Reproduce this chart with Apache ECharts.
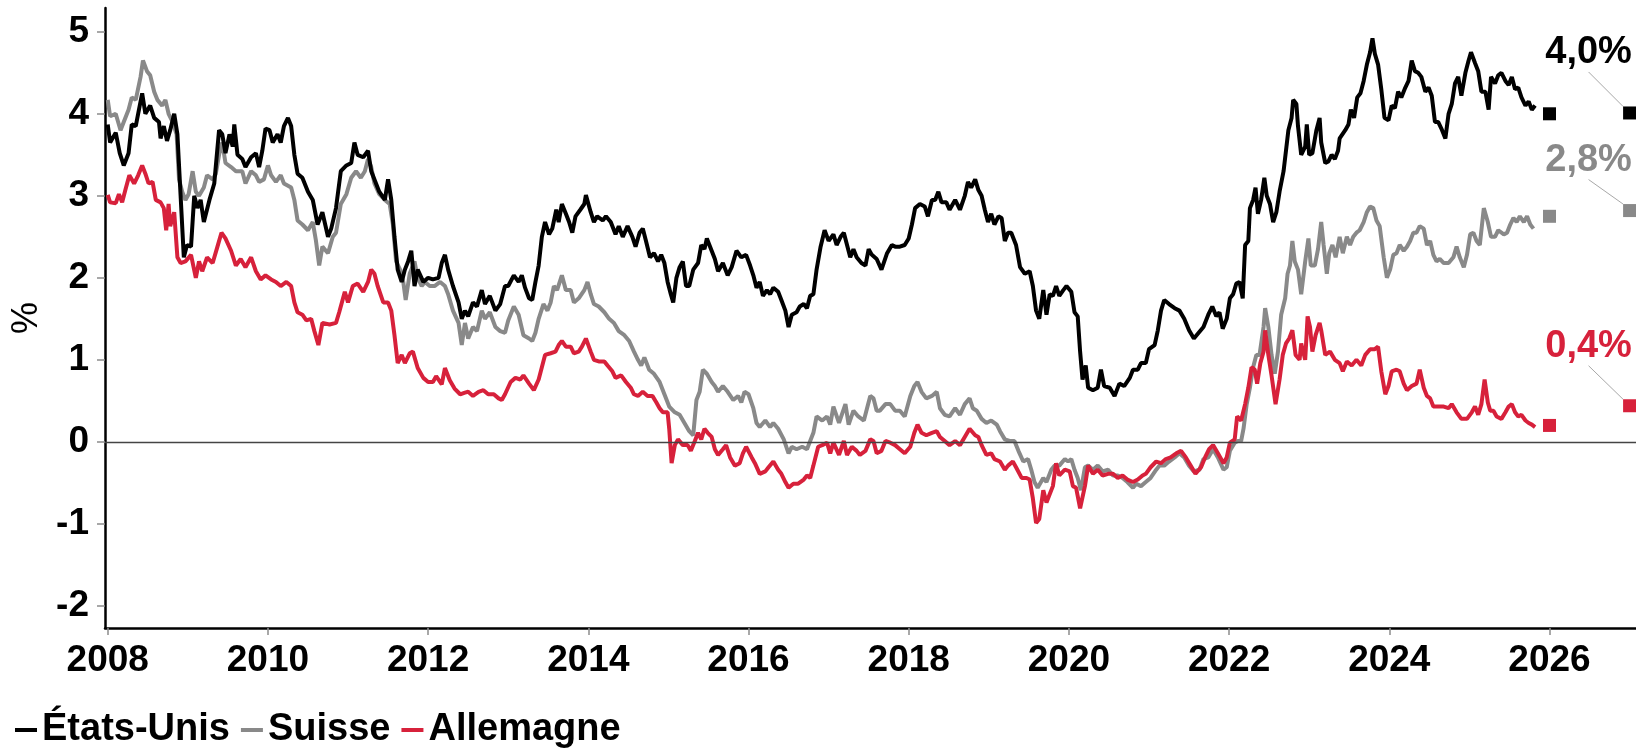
<!DOCTYPE html>
<html>
<head>
<meta charset="utf-8">
<script src="https://cdn.jsdelivr.net/npm/echarts@6/dist/echarts.min.js"></script>
<style>
  html, body { margin: 0; padding: 0; background: #fff; }
  #main { width: 1636px; height: 750px; }
</style>
</head>
<body>
<div id="main"></div>
<script type="text/javascript">
    // noms des séries et graduations
    var seriesNames = ['États-Unis', 'Suisse', 'Allemagne'];
    var xTicks = [2008, 2010, 2012, 2014, 2016, 2018, 2020, 2022, 2024, 2026];
    var yTicks = [-2, -1, 0, 1, 2, 3, 4, 5];

    // rendements : [année décimale, %]
    var usData = [
        [2008.00,3.87],[2008.03,3.65],[2008.10,3.77],[2008.15,3.52],[2008.20,3.37],[2008.26,3.52],[2008.30,3.87],[2008.35,3.85],
        [2008.39,4.05],[2008.43,4.25],[2008.47,4.00],[2008.53,4.10],[2008.58,3.95],[2008.64,3.90],[2008.66,3.70],[2008.70,3.85],
        [2008.74,3.67],[2008.78,3.80],[2008.83,4.00],[2008.87,3.75],[2008.91,3.00],[2008.95,2.25],[2008.99,2.40],[2009.04,2.38],
        [2009.08,3.00],[2009.12,2.85],[2009.16,2.95],[2009.20,2.68],[2009.27,2.95],[2009.33,3.15],[2009.39,3.80],[2009.43,3.75],
        [2009.47,3.52],[2009.52,3.75],[2009.56,3.60],[2009.58,3.87],[2009.62,3.50],[2009.68,3.45],[2009.72,3.35],[2009.79,3.47],
        [2009.85,3.52],[2009.89,3.35],[2009.93,3.55],[2009.97,3.82],[2010.02,3.80],[2010.06,3.65],[2010.12,3.75],[2010.16,3.65],
        [2010.20,3.85],[2010.25,3.95],[2010.29,3.85],[2010.33,3.50],[2010.37,3.27],[2010.43,3.22],[2010.50,3.05],[2010.56,2.95],
        [2010.62,2.65],[2010.68,2.80],[2010.75,2.50],[2010.79,2.60],[2010.85,2.85],[2010.91,3.30],[2010.98,3.37],[2011.04,3.40],
        [2011.08,3.65],[2011.12,3.50],[2011.19,3.47],[2011.25,3.55],[2011.29,3.30],[2011.33,3.20],[2011.39,3.05],[2011.46,2.95],
        [2011.50,3.20],[2011.54,2.95],[2011.58,2.50],[2011.62,2.10],[2011.67,1.95],[2011.71,2.10],[2011.75,2.20],[2011.79,2.33],
        [2011.83,1.90],[2011.87,2.10],[2011.94,1.95],[2012.00,2.00],[2012.06,1.98],[2012.13,2.00],[2012.17,2.18],[2012.21,2.28],
        [2012.25,2.10],[2012.31,1.90],[2012.38,1.70],[2012.42,1.50],[2012.46,1.60],[2012.50,1.53],[2012.56,1.70],[2012.61,1.65],
        [2012.67,1.85],[2012.71,1.68],[2012.77,1.78],[2012.84,1.60],[2012.90,1.68],[2012.96,1.90],[2013.00,1.90],[2013.07,2.03],
        [2013.13,1.95],[2013.17,2.03],[2013.21,1.88],[2013.26,1.75],[2013.30,1.73],[2013.34,1.95],[2013.38,2.15],[2013.42,2.50],
        [2013.46,2.68],[2013.51,2.53],[2013.55,2.60],[2013.60,2.83],[2013.63,2.68],[2013.67,2.90],[2013.72,2.78],[2013.76,2.68],
        [2013.80,2.55],[2013.84,2.75],[2013.90,2.83],[2013.95,2.90],[2013.97,3.01],[2014.03,2.80],[2014.07,2.68],[2014.11,2.75],
        [2014.18,2.70],[2014.22,2.75],[2014.28,2.68],[2014.34,2.53],[2014.38,2.63],[2014.43,2.50],[2014.49,2.63],[2014.55,2.50],
        [2014.59,2.38],[2014.64,2.55],[2014.68,2.60],[2014.72,2.45],[2014.77,2.25],[2014.82,2.30],[2014.87,2.20],[2014.91,2.28],
        [2014.95,2.18],[2014.99,1.95],[2015.03,1.80],[2015.06,1.70],[2015.10,2.00],[2015.14,2.13],[2015.18,2.20],[2015.22,1.90],
        [2015.26,1.90],[2015.31,2.10],[2015.37,2.18],[2015.41,2.40],[2015.45,2.35],[2015.48,2.48],[2015.54,2.33],[2015.58,2.23],
        [2015.62,2.08],[2015.68,2.18],[2015.74,2.03],[2015.79,2.13],[2015.85,2.33],[2015.91,2.25],[2015.97,2.28],[2016.02,2.15],
        [2016.06,2.03],[2016.10,1.88],[2016.14,1.95],[2016.18,1.78],[2016.23,1.85],[2016.27,1.80],[2016.31,1.88],[2016.37,1.83],
        [2016.41,1.73],[2016.46,1.60],[2016.50,1.40],[2016.54,1.55],[2016.60,1.58],[2016.64,1.65],[2016.69,1.68],[2016.73,1.63],
        [2016.77,1.78],[2016.81,1.80],[2016.85,2.10],[2016.90,2.38],[2016.95,2.58],[2017.00,2.45],[2017.06,2.53],[2017.10,2.40],
        [2017.15,2.50],[2017.19,2.55],[2017.23,2.40],[2017.27,2.25],[2017.31,2.35],[2017.35,2.25],[2017.41,2.18],[2017.46,2.15],
        [2017.50,2.35],[2017.54,2.28],[2017.60,2.23],[2017.66,2.10],[2017.73,2.30],[2017.79,2.40],[2017.83,2.38],[2017.89,2.38],
        [2017.95,2.40],[2018.00,2.48],[2018.04,2.65],[2018.08,2.85],[2018.14,2.90],[2018.20,2.87],[2018.24,2.75],[2018.29,2.95],
        [2018.33,2.95],[2018.37,3.05],[2018.41,2.92],[2018.47,2.92],[2018.51,2.83],[2018.58,2.95],[2018.64,2.83],[2018.70,3.00],
        [2018.74,3.17],[2018.78,3.10],[2018.83,3.20],[2018.87,3.07],[2018.91,3.00],[2018.95,2.83],[2018.99,2.68],[2019.03,2.78],
        [2019.07,2.65],[2019.12,2.75],[2019.16,2.73],[2019.20,2.45],[2019.24,2.55],[2019.28,2.55],[2019.34,2.40],[2019.39,2.13],
        [2019.45,2.05],[2019.51,2.08],[2019.55,1.90],[2019.59,1.60],[2019.63,1.50],[2019.68,1.85],[2019.72,1.55],[2019.76,1.80],
        [2019.80,1.78],[2019.84,1.90],[2019.88,1.78],[2019.93,1.85],[2019.97,1.90],[2020.03,1.83],[2020.07,1.58],[2020.11,1.53],
        [2020.14,1.10],[2020.17,0.76],[2020.21,0.93],[2020.24,0.66],[2020.30,0.63],[2020.36,0.66],[2020.40,0.88],[2020.44,0.68],
        [2020.51,0.66],[2020.57,0.56],[2020.63,0.71],[2020.69,0.68],[2020.76,0.78],[2020.80,0.88],[2020.86,0.88],[2020.90,0.96],
        [2020.96,0.96],[2021.00,1.13],[2021.07,1.18],[2021.11,1.36],[2021.15,1.60],[2021.19,1.73],[2021.25,1.68],[2021.32,1.63],
        [2021.38,1.60],[2021.44,1.50],[2021.50,1.36],[2021.56,1.26],[2021.62,1.33],[2021.68,1.40],[2021.74,1.55],[2021.79,1.65],
        [2021.84,1.53],[2021.88,1.58],[2021.92,1.38],[2021.97,1.50],[2022.01,1.75],[2022.05,1.80],[2022.09,1.93],[2022.13,1.95],
        [2022.17,1.75],[2022.20,2.40],[2022.24,2.45],[2022.26,2.85],[2022.30,2.95],[2022.33,3.10],[2022.36,2.78],[2022.40,2.95],
        [2022.44,3.22],[2022.47,3.00],[2022.51,2.90],[2022.55,2.68],[2022.59,2.80],[2022.63,3.05],[2022.68,3.30],[2022.71,3.55],
        [2022.74,3.80],[2022.78,3.95],[2022.80,4.17],[2022.84,4.12],[2022.86,3.85],[2022.90,3.50],[2022.95,3.60],[2022.97,3.87],
        [2023.00,3.50],[2023.04,3.52],[2023.09,3.80],[2023.13,3.95],[2023.15,3.65],[2023.20,3.40],[2023.24,3.42],[2023.28,3.50],
        [2023.32,3.45],[2023.36,3.55],[2023.38,3.70],[2023.45,3.80],[2023.49,3.87],[2023.52,4.05],[2023.56,3.95],[2023.60,4.20],
        [2023.64,4.25],[2023.68,4.40],[2023.72,4.60],[2023.76,4.75],[2023.79,4.92],[2023.82,4.73],[2023.86,4.60],[2023.90,4.30],
        [2023.94,3.95],[2023.99,3.92],[2024.03,4.10],[2024.07,4.07],[2024.11,4.27],[2024.15,4.20],[2024.20,4.32],[2024.24,4.40],
        [2024.28,4.65],[2024.32,4.52],[2024.36,4.50],[2024.40,4.45],[2024.45,4.27],[2024.49,4.32],[2024.53,4.22],[2024.57,3.90],
        [2024.61,3.90],[2024.65,3.82],[2024.70,3.70],[2024.74,4.00],[2024.78,4.12],[2024.82,4.37],[2024.86,4.45],[2024.90,4.22],
        [2024.95,4.50],[2024.99,4.65],[2025.02,4.75],[2025.07,4.62],[2025.11,4.52],[2025.15,4.27],[2025.20,4.27],[2025.24,4.05],
        [2025.27,4.45],[2025.32,4.37],[2025.36,4.47],[2025.40,4.50],[2025.45,4.40],[2025.49,4.35],[2025.53,4.45],[2025.57,4.30],
        [2025.61,4.32],[2025.65,4.20],[2025.70,4.10],[2025.74,4.15],[2025.78,4.05],[2025.82,4.10]
    ];

    var chData = [
        [2008.00,4.17],[2008.03,3.97],[2008.10,4.00],[2008.16,3.80],[2008.20,3.90],[2008.26,4.05],[2008.30,4.20],[2008.35,4.17],
        [2008.41,4.45],[2008.44,4.65],[2008.49,4.52],[2008.53,4.47],[2008.58,4.27],[2008.62,4.17],[2008.68,4.10],[2008.72,4.17],
        [2008.76,4.00],[2008.81,3.90],[2008.86,3.75],[2008.89,3.20],[2008.93,3.05],[2008.97,2.95],[2009.01,3.02],[2009.06,3.30],
        [2009.10,3.05],[2009.14,3.00],[2009.20,3.10],[2009.24,3.25],[2009.31,3.20],[2009.35,3.27],[2009.39,3.50],[2009.43,3.65],
        [2009.47,3.40],[2009.54,3.35],[2009.60,3.30],[2009.68,3.30],[2009.72,3.15],[2009.79,3.30],[2009.85,3.25],[2009.89,3.17],
        [2009.95,3.20],[2010.00,3.37],[2010.04,3.25],[2010.10,3.17],[2010.16,3.25],[2010.20,3.15],[2010.29,3.10],[2010.33,2.95],
        [2010.37,2.70],[2010.43,2.65],[2010.50,2.58],[2010.56,2.68],[2010.60,2.45],[2010.64,2.15],[2010.68,2.38],[2010.75,2.30],
        [2010.81,2.50],[2010.85,2.55],[2010.91,2.90],[2010.98,3.02],[2011.04,3.22],[2011.10,3.30],[2011.16,3.22],[2011.21,3.30],
        [2011.25,3.45],[2011.29,3.35],[2011.33,3.15],[2011.39,3.02],[2011.46,2.95],[2011.52,2.90],[2011.56,2.65],[2011.60,2.20],
        [2011.65,2.10],[2011.69,1.95],[2011.72,1.73],[2011.77,2.05],[2011.83,2.20],[2011.87,2.00],[2011.92,1.90],[2011.96,1.95],
        [2012.02,1.90],[2012.08,1.90],[2012.15,1.95],[2012.21,1.90],[2012.25,1.80],[2012.31,1.60],[2012.38,1.45],[2012.42,1.18],
        [2012.46,1.45],[2012.50,1.26],[2012.56,1.40],[2012.61,1.35],[2012.67,1.60],[2012.71,1.50],[2012.77,1.58],[2012.84,1.40],
        [2012.90,1.35],[2012.96,1.33],[2013.00,1.48],[2013.07,1.65],[2013.13,1.55],[2013.19,1.30],[2013.26,1.26],[2013.30,1.23],
        [2013.34,1.33],[2013.38,1.50],[2013.44,1.68],[2013.49,1.60],[2013.53,1.70],[2013.57,1.90],[2013.61,1.85],[2013.67,2.03],
        [2013.72,1.85],[2013.78,1.85],[2013.82,1.70],[2013.88,1.75],[2013.95,1.85],[2013.99,1.95],[2014.03,1.80],[2014.07,1.68],
        [2014.13,1.65],[2014.20,1.58],[2014.26,1.50],[2014.32,1.45],[2014.38,1.35],[2014.45,1.30],[2014.51,1.23],[2014.57,1.10],
        [2014.62,1.00],[2014.66,0.93],[2014.70,1.03],[2014.76,0.88],[2014.82,0.83],[2014.89,0.73],[2014.95,0.58],[2015.01,0.43],
        [2015.08,0.36],[2015.14,0.33],[2015.20,0.23],[2015.26,0.13],[2015.31,0.08],[2015.35,0.51],[2015.39,0.61],[2015.43,0.88],
        [2015.48,0.83],[2015.54,0.73],[2015.58,0.68],[2015.62,0.61],[2015.68,0.68],[2015.74,0.61],[2015.81,0.51],[2015.87,0.56],
        [2015.91,0.48],[2015.95,0.61],[2016.00,0.58],[2016.06,0.41],[2016.10,0.23],[2016.14,0.18],[2016.21,0.26],[2016.27,0.18],
        [2016.31,0.23],[2016.37,0.16],[2016.44,0.03],[2016.50,-0.14],[2016.54,-0.06],[2016.60,-0.09],[2016.67,-0.06],[2016.73,-0.09],
        [2016.77,0.01],[2016.81,0.11],[2016.85,0.31],[2016.92,0.26],[2016.98,0.31],[2017.02,0.21],[2017.06,0.43],[2017.13,0.23],
        [2017.21,0.46],[2017.25,0.21],[2017.31,0.38],[2017.37,0.31],[2017.44,0.26],[2017.48,0.41],[2017.52,0.56],[2017.56,0.53],
        [2017.60,0.38],[2017.64,0.38],[2017.71,0.46],[2017.77,0.46],[2017.83,0.38],[2017.89,0.38],[2017.95,0.31],[2018.02,0.56],
        [2018.07,0.68],[2018.11,0.73],[2018.16,0.61],[2018.22,0.53],[2018.29,0.56],[2018.35,0.61],[2018.39,0.41],[2018.45,0.33],
        [2018.51,0.31],[2018.58,0.41],[2018.64,0.33],[2018.70,0.46],[2018.76,0.53],[2018.80,0.41],[2018.85,0.38],[2018.91,0.28],
        [2018.97,0.23],[2019.03,0.26],[2019.10,0.21],[2019.14,0.13],[2019.20,0.03],[2019.26,0.01],[2019.32,0.01],[2019.37,-0.11],
        [2019.43,-0.24],[2019.49,-0.21],[2019.53,-0.34],[2019.57,-0.49],[2019.61,-0.56],[2019.68,-0.44],[2019.72,-0.49],[2019.78,-0.34],
        [2019.82,-0.29],[2019.88,-0.29],[2019.95,-0.21],[2019.99,-0.24],[2020.03,-0.21],[2020.07,-0.34],[2020.11,-0.44],[2020.15,-0.59],
        [2020.20,-0.31],[2020.24,-0.29],[2020.30,-0.34],[2020.36,-0.29],[2020.42,-0.36],[2020.49,-0.34],[2020.55,-0.41],[2020.61,-0.41],
        [2020.67,-0.44],[2020.73,-0.49],[2020.80,-0.56],[2020.84,-0.51],[2020.90,-0.54],[2020.96,-0.49],[2021.02,-0.44],[2021.09,-0.34],
        [2021.13,-0.29],[2021.19,-0.29],[2021.25,-0.24],[2021.32,-0.19],[2021.38,-0.14],[2021.44,-0.19],[2021.50,-0.29],[2021.56,-0.36],
        [2021.63,-0.34],[2021.68,-0.21],[2021.74,-0.19],[2021.80,-0.09],[2021.86,-0.19],[2021.93,-0.34],[2021.97,-0.31],[2022.01,-0.11],
        [2022.07,-0.01],[2022.11,0.01],[2022.15,0.01],[2022.18,0.16],[2022.22,0.46],[2022.26,0.66],[2022.30,0.91],[2022.34,1.06],
        [2022.38,1.06],[2022.43,1.40],[2022.45,1.63],[2022.49,1.40],[2022.53,1.06],[2022.57,0.83],[2022.61,1.10],[2022.65,1.55],
        [2022.70,1.75],[2022.73,2.05],[2022.76,2.15],[2022.79,2.45],[2022.82,2.20],[2022.86,2.10],[2022.90,1.80],[2022.95,2.20],
        [2022.99,2.48],[2023.02,2.15],[2023.07,2.15],[2023.11,2.35],[2023.15,2.68],[2023.18,2.40],[2023.22,2.05],[2023.25,2.30],
        [2023.29,2.40],[2023.33,2.25],[2023.38,2.50],[2023.42,2.30],[2023.47,2.50],[2023.51,2.40],[2023.55,2.50],[2023.59,2.55],
        [2023.63,2.58],[2023.68,2.68],[2023.72,2.80],[2023.76,2.87],[2023.80,2.85],[2023.84,2.70],[2023.88,2.63],[2023.93,2.25],
        [2023.97,2.00],[2024.01,2.10],[2024.05,2.28],[2024.09,2.30],[2024.13,2.40],[2024.18,2.33],[2024.22,2.38],[2024.26,2.45],
        [2024.30,2.55],[2024.34,2.55],[2024.38,2.63],[2024.43,2.60],[2024.47,2.40],[2024.51,2.45],[2024.55,2.28],[2024.59,2.20],
        [2024.63,2.23],[2024.68,2.18],[2024.74,2.18],[2024.80,2.25],[2024.84,2.38],[2024.88,2.25],[2024.93,2.13],[2024.97,2.28],
        [2025.01,2.53],[2025.05,2.55],[2025.09,2.45],[2025.13,2.40],[2025.18,2.85],[2025.23,2.68],[2025.27,2.50],[2025.32,2.50],
        [2025.36,2.58],[2025.43,2.53],[2025.47,2.55],[2025.51,2.65],[2025.55,2.73],[2025.59,2.68],[2025.63,2.75],[2025.68,2.68],
        [2025.72,2.75],[2025.76,2.65],[2025.80,2.60]
    ];

    var deData = [
        [2008.00,3.01],[2008.03,2.92],[2008.10,2.91],[2008.14,3.02],[2008.18,2.92],[2008.22,3.07],[2008.27,3.25],[2008.33,3.15],
        [2008.38,3.25],[2008.43,3.37],[2008.47,3.27],[2008.51,3.15],[2008.56,3.17],[2008.60,2.95],[2008.66,2.92],[2008.70,2.85],
        [2008.73,2.58],[2008.76,2.90],[2008.78,2.63],[2008.83,2.80],[2008.87,2.25],[2008.91,2.18],[2008.97,2.20],[2009.04,2.28],
        [2009.10,2.00],[2009.14,2.20],[2009.18,2.08],[2009.24,2.25],[2009.31,2.18],[2009.37,2.38],[2009.42,2.55],[2009.47,2.48],
        [2009.54,2.33],[2009.60,2.15],[2009.66,2.23],[2009.72,2.13],[2009.79,2.25],[2009.85,2.08],[2009.91,1.98],[2009.97,2.03],
        [2010.04,1.98],[2010.10,1.95],[2010.16,1.90],[2010.23,1.95],[2010.29,1.90],[2010.33,1.70],[2010.37,1.58],[2010.43,1.55],
        [2010.48,1.48],[2010.54,1.50],[2010.58,1.35],[2010.63,1.18],[2010.68,1.45],[2010.77,1.43],[2010.85,1.45],[2010.89,1.58],
        [2010.96,1.83],[2011.00,1.70],[2011.06,1.90],[2011.12,1.93],[2011.19,1.83],[2011.25,1.95],[2011.29,2.10],[2011.33,2.05],
        [2011.37,1.90],[2011.44,1.70],[2011.50,1.70],[2011.54,1.60],[2011.58,1.30],[2011.62,0.96],[2011.67,1.06],[2011.71,0.96],
        [2011.77,1.08],[2011.81,1.10],[2011.87,0.90],[2011.94,0.78],[2012.00,0.73],[2012.06,0.73],[2012.10,0.80],[2012.17,0.70],
        [2012.21,0.90],[2012.27,0.75],[2012.33,0.65],[2012.40,0.58],[2012.46,0.60],[2012.50,0.61],[2012.56,0.56],[2012.63,0.61],
        [2012.69,0.63],[2012.75,0.58],[2012.82,0.58],[2012.88,0.53],[2012.92,0.51],[2012.96,0.58],[2013.03,0.73],[2013.09,0.78],
        [2013.15,0.76],[2013.19,0.81],[2013.26,0.71],[2013.32,0.63],[2013.38,0.76],[2013.42,0.91],[2013.46,1.06],[2013.53,1.08],
        [2013.59,1.10],[2013.63,1.18],[2013.67,1.23],[2013.72,1.16],[2013.78,1.16],[2013.82,1.08],[2013.88,1.10],[2013.92,1.16],
        [2013.97,1.26],[2014.03,1.10],[2014.07,1.00],[2014.13,0.98],[2014.20,0.98],[2014.24,0.93],[2014.30,0.86],[2014.34,0.78],
        [2014.41,0.81],[2014.47,0.73],[2014.53,0.66],[2014.57,0.58],[2014.62,0.56],[2014.68,0.61],[2014.74,0.56],[2014.80,0.56],
        [2014.85,0.48],[2014.89,0.41],[2014.93,0.36],[2014.99,0.36],[2015.01,0.16],[2015.04,-0.26],[2015.08,-0.04],[2015.12,0.03],
        [2015.18,-0.04],[2015.24,-0.04],[2015.28,-0.11],[2015.33,0.01],[2015.37,0.11],[2015.41,0.03],[2015.45,0.16],[2015.49,0.11],
        [2015.54,0.06],[2015.58,-0.09],[2015.62,-0.16],[2015.68,-0.09],[2015.72,-0.04],[2015.77,-0.19],[2015.83,-0.29],[2015.89,-0.26],
        [2015.93,-0.14],[2015.97,-0.06],[2016.04,-0.19],[2016.08,-0.26],[2016.14,-0.39],[2016.21,-0.36],[2016.25,-0.31],[2016.31,-0.24],
        [2016.37,-0.34],[2016.41,-0.39],[2016.46,-0.49],[2016.50,-0.56],[2016.56,-0.51],[2016.62,-0.51],[2016.69,-0.46],[2016.73,-0.41],
        [2016.77,-0.44],[2016.81,-0.29],[2016.87,-0.06],[2016.92,-0.04],[2016.98,-0.01],[2017.02,-0.14],[2017.06,-0.01],[2017.13,-0.16],
        [2017.19,0.01],[2017.23,-0.16],[2017.29,-0.06],[2017.35,-0.11],[2017.39,-0.16],[2017.46,-0.11],[2017.52,0.03],[2017.56,0.01],
        [2017.60,-0.14],[2017.66,-0.11],[2017.71,0.01],[2017.77,-0.01],[2017.83,-0.04],[2017.89,-0.09],[2017.95,-0.14],[2018.02,-0.06],
        [2018.07,0.11],[2018.11,0.21],[2018.16,0.11],[2018.22,0.08],[2018.29,0.11],[2018.35,0.13],[2018.39,0.06],[2018.45,0.01],
        [2018.51,-0.04],[2018.58,0.01],[2018.64,-0.04],[2018.70,0.06],[2018.76,0.16],[2018.83,0.08],[2018.87,0.06],[2018.91,-0.04],
        [2018.97,-0.16],[2019.03,-0.14],[2019.07,-0.21],[2019.14,-0.24],[2019.20,-0.34],[2019.24,-0.29],[2019.30,-0.24],[2019.34,-0.31],
        [2019.41,-0.44],[2019.47,-0.44],[2019.51,-0.46],[2019.55,-0.69],[2019.59,-0.99],[2019.63,-0.94],[2019.68,-0.59],[2019.72,-0.74],
        [2019.76,-0.64],[2019.80,-0.54],[2019.84,-0.26],[2019.88,-0.41],[2019.95,-0.34],[2020.01,-0.36],[2020.05,-0.54],[2020.09,-0.56],
        [2020.14,-0.81],[2020.20,-0.54],[2020.24,-0.29],[2020.30,-0.39],[2020.36,-0.34],[2020.42,-0.41],[2020.49,-0.39],[2020.55,-0.39],
        [2020.61,-0.44],[2020.67,-0.41],[2020.73,-0.46],[2020.80,-0.49],[2020.86,-0.46],[2020.92,-0.41],[2020.96,-0.39],[2021.02,-0.31],
        [2021.09,-0.24],[2021.15,-0.26],[2021.21,-0.21],[2021.27,-0.19],[2021.34,-0.14],[2021.40,-0.11],[2021.46,-0.19],[2021.52,-0.29],
        [2021.58,-0.39],[2021.65,-0.31],[2021.70,-0.19],[2021.75,-0.09],[2021.80,-0.04],[2021.86,-0.14],[2021.93,-0.26],[2021.97,-0.19],
        [2022.01,-0.01],[2022.07,0.03],[2022.10,0.31],[2022.15,0.26],[2022.20,0.46],[2022.24,0.66],[2022.28,0.91],[2022.32,0.88],
        [2022.35,0.71],[2022.39,0.96],[2022.43,1.10],[2022.45,1.36],[2022.49,1.06],[2022.53,0.81],[2022.58,0.46],[2022.63,0.76],
        [2022.67,1.06],[2022.71,1.20],[2022.75,1.26],[2022.79,1.36],[2022.83,1.06],[2022.88,1.00],[2022.90,1.20],[2022.95,1.00],
        [2022.98,1.53],[2023.01,1.40],[2023.04,1.10],[2023.08,1.30],[2023.13,1.45],[2023.15,1.36],[2023.20,1.06],[2023.26,1.10],
        [2023.32,1.00],[2023.38,0.96],[2023.42,0.86],[2023.47,0.98],[2023.53,0.93],[2023.59,1.00],[2023.65,0.93],[2023.70,1.06],
        [2023.76,1.13],[2023.82,1.13],[2023.86,1.16],[2023.90,0.86],[2023.95,0.58],[2023.99,0.68],[2024.03,0.86],[2024.09,0.88],
        [2024.13,0.86],[2024.18,0.71],[2024.22,0.63],[2024.28,0.68],[2024.34,0.71],[2024.38,0.88],[2024.43,0.66],[2024.47,0.56],
        [2024.51,0.53],[2024.55,0.43],[2024.61,0.43],[2024.68,0.43],[2024.74,0.41],[2024.78,0.46],[2024.84,0.36],[2024.90,0.28],
        [2024.97,0.28],[2025.03,0.36],[2025.07,0.43],[2025.11,0.33],[2025.15,0.46],[2025.19,0.76],[2025.23,0.48],[2025.26,0.38],
        [2025.30,0.38],[2025.34,0.31],[2025.40,0.28],[2025.45,0.36],[2025.49,0.43],[2025.53,0.46],[2025.57,0.36],[2025.61,0.31],
        [2025.65,0.33],[2025.70,0.26],[2025.74,0.23],[2025.78,0.21],[2025.82,0.18]
    ];

    // derniers points (carrés) et étiquettes à droite
    var lastYear = 2026;
    var lastValues = [4.0, 2.75, 0.2];
    var labelYear = 2027;
    var labelValues = [4.01, 2.82, 0.44];

    // styles
    var FONT = "'Liberation Sans', Arial, Helvetica, sans-serif";
    var colors = ['#000000', '#898989', '#d7213b'];
    var labelShift = [[-41, -60], [-41, -50], [-41, -59]];

    var lineData = [usData, chData, deData];
    var drawOrder = [1, 2, 0];   // Suisse dessous, puis Allemagne, puis États-Unis

    var myChart = echarts.init(document.getElementById('main'), null, {renderer: 'canvas'});

    var series = [];
    drawOrder.forEach(function (i, k) {
        var s = {
            name: seriesNames[i],
            type: 'line',
            data: lineData[i],
            showSymbol: false,
            symbol: 'none',
            lineStyle: {color: colors[i], width: 4},
            itemStyle: {color: colors[i]},
            emphasis: {disabled: true},
            z: 3 + k
        };
        if (k === 0) {
            // ligne du zéro
            s.markLine = {
                silent: true,
                symbol: 'none',
                label: {show: false},
                lineStyle: {color: '#444444', width: 1.4, type: 'solid'},
                data: [{yAxis: 0}]
            };
        }
        series.push(s);
    });

    seriesNames.forEach(function (name, i) {
        series.push({
            name: name + ' (dernier)',
            type: 'scatter',
            symbol: 'rect',
            symbolSize: 13,
            clip: false,
            z: 10,
            itemStyle: {color: colors[i], opacity: 1},
            emphasis: {disabled: true},
            data: [
                [lastYear, lastValues[i]],
                {value: [labelYear, labelValues[i]], label: {show: true}}
            ],
            label: {
                show: false,
                position: 'inside',
                color: colors[i],
                opacity: 1,
                fontFamily: FONT,
                fontSize: 38,
                fontWeight: 'bold',
                formatter: function (p) {
                    return p.value[1].toFixed(1).replace('.', ',') + '%';
                }
            },
            labelLine: {show: true, lineStyle: {color: '#a8a8a8', width: 1, opacity: 1}},
            labelLayout: function (params) {
                if (params.dataIndex === 1) {
                    return {dx: labelShift[i][0], dy: labelShift[i][1]};
                }
                return {};
            }
        });
    });

    var option = {
        animation: false,
        backgroundColor: '#ffffff',
        textStyle: {fontFamily: FONT},
        grid: {left: 105, right: 0, top: 8, bottom: 122, containLabel: false},
        legend: {
            data: seriesNames,
            left: 15,
            top: 711,
            padding: 0,
            icon: 'rect',
            itemWidth: 22,
            itemHeight: 4,
            itemGap: 11,
            selectedMode: false,
            textStyle: {fontFamily: FONT, fontSize: 38, fontWeight: 'bold', color: '#000'}
        },
        xAxis: {
            type: 'value',
            min: 2007.966,
            max: 2027.08,
            splitNumber: 10,
            axisLine: {show: true, onZero: false, lineStyle: {color: '#000', width: 2.5}},
            axisTick: {show: true, length: 7, customValues: xTicks, lineStyle: {color: '#8c8c8c', width: 1.5}},
            axisLabel: {
                customValues: xTicks,
                margin: 14,
                color: '#000',
                fontFamily: FONT,
                fontSize: 37,
                fontWeight: 'bold',
                formatter: function (v) { return String(Math.round(v)); }
            },
            splitLine: {show: false}
        },
        yAxis: {
            type: 'value',
            min: -2.27,
            max: 5.29,
            splitNumber: 8,
            name: '%',
            nameLocation: 'middle',
            nameRotate: 90,
            nameGap: 56,
            nameTextStyle: {fontFamily: FONT, fontSize: 36, color: '#000'},
            axisLine: {show: true, lineStyle: {color: '#000', width: 2.5}},
            axisTick: {show: true, length: 8, customValues: yTicks, lineStyle: {color: '#8c8c8c', width: 1.5}},
            axisLabel: {
                customValues: yTicks,
                margin: 16,
                color: '#000',
                fontFamily: FONT,
                fontSize: 37,
                fontWeight: 'bold',
                formatter: function (v) { return String(Math.round(v)); }
            },
            splitLine: {show: false}
        },
        series: series
    };

    myChart.setOption(option, true);
</script>
</body>
</html>
